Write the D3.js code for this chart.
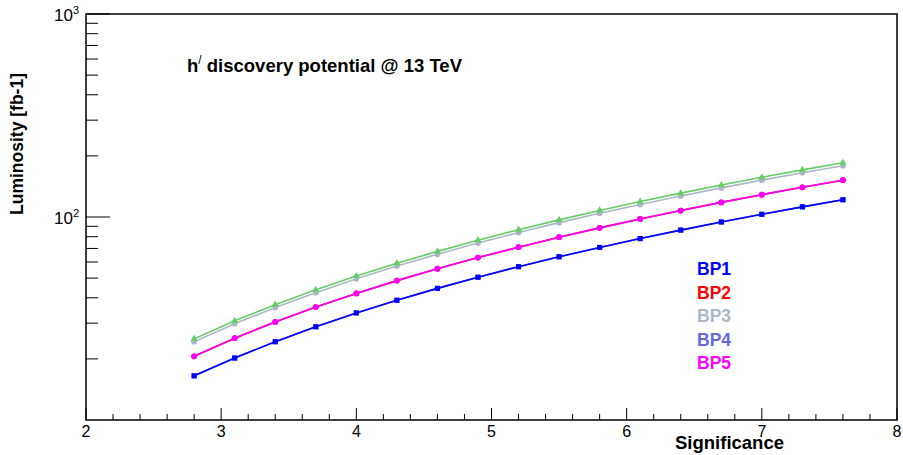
<!DOCTYPE html>
<html lang="en">
<head>
<meta charset="UTF-8">
<title>h discovery potential</title>
<script src="https://cdn.jsdelivr.net/npm/d3@7"></script>
<style>
  body { margin: 0; background: #fff; }
  text { font-family: Arial, "Liberation Sans", sans-serif; }
</style>
</head>
<body>
<div id="chart"></div>
<script>
// significance values (x)
var significance = [2.8, 3.1, 3.4, 3.7, 4.0, 4.3, 4.6, 4.9, 5.2, 5.5, 5.8, 6.1, 6.4, 6.7, 7.0, 7.3, 7.6];

// luminosity in fb-1
var bp1 = [16.5, 20.2, 24.3, 28.8, 33.7, 38.9, 44.5, 50.5, 56.9, 63.7, 70.8, 78.3, 86.2, 94.5, 103.1, 112.2, 121.6];
var bp2 = [20.6, 25.3, 30.4, 36.0, 42.0, 48.6, 55.6, 63.1, 71.0, 79.5, 88.4, 97.8, 107.6, 118.0, 128.8, 140.0, 151.8];
var bp3 = [24.3, 29.8, 35.8, 42.4, 49.6, 57.3, 65.6, 74.4, 83.8, 93.8, 104.3, 115.3, 127.0, 139.1, 151.9, 165.2, 179.0];
var bp4 = [16.5, 20.2, 24.3, 28.8, 33.7, 38.9, 44.5, 50.5, 56.9, 63.7, 70.8, 78.3, 86.2, 94.5, 103.1, 112.2, 121.6];
var bp5 = [20.6, 25.3, 30.4, 36.0, 42.0, 48.6, 55.6, 63.1, 71.0, 79.5, 88.4, 97.8, 107.6, 118.0, 128.8, 140.0, 151.8];
var extra = [25.1, 30.8, 37.0, 43.8, 51.2, 59.2, 67.7, 76.9, 86.6, 96.8, 107.7, 119.1, 131.1, 143.7, 156.9, 170.6, 184.9];

var legendNames = ["BP1", "BP2", "BP3", "BP4", "BP5"];
var xTicks = [2, 3, 4, 5, 6, 7, 8];

var W = 903, H = 455;
var padL = 86, padR = 897, padT = 14, padB = 420;

var svg = d3.select("#chart").append("svg")
    .attr("width", W).attr("height", H);

var x = d3.scaleLinear().domain([2, 8]).range([padL, padR]);
var y = d3.scaleLog().domain([10, 1000]).range([padB, padT]);

// frame
svg.append("rect")
    .attr("x", padL).attr("y", padT)
    .attr("width", padR - padL).attr("height", padB - padT)
    .attr("fill", "none").attr("stroke", "#000").attr("stroke-width", 1.5);

// x ticks (major every 1, minor every 0.2)
var xMinor = d3.range(2, 8.001, 0.2);
svg.selectAll(".xtick").data(xMinor).enter().append("line")
    .attr("x1", function(d) { return x(d); })
    .attr("x2", function(d) { return x(d); })
    .attr("y1", padB)
    .attr("y2", function(d) { return Math.abs(d - Math.round(d)) < 1e-6 ? padB - 12 : padB - 6; })
    .attr("stroke", "#000").attr("stroke-width", 1);

svg.selectAll(".xlab").data(xTicks).enter().append("text")
    .attr("x", function(d) { return x(d); })
    .attr("y", 437)
    .attr("text-anchor", "middle")
    .attr("font-size", 16)
    .text(function(d) { return d; });

// y ticks (log)
var yMinor = [];
[10, 100].forEach(function(dec) {
  for (var k = 1; k <= 9; k++) if (dec * k > 10) yMinor.push(dec * k);
});
yMinor.push(1000);
svg.selectAll(".ytick").data(yMinor).enter().append("line")
    .attr("x1", padL)
    .attr("x2", function(d) { return (d === 100 || d === 1000) ? padL + 24 : padL + 12; })
    .attr("y1", function(d) { return y(d); })
    .attr("y2", function(d) { return y(d); })
    .attr("stroke", "#000").attr("stroke-width", 1);

[[100, "2"], [1000, "3"]].forEach(function(t) {
  var g = svg.append("text")
      .attr("x", 79).attr("y", y(t[0]) + 7)
      .attr("text-anchor", "end")
      .attr("font-size", 17);
  g.append("tspan").text("10");
  g.append("tspan").attr("font-size", 11).attr("dy", -7).text(t[1]);
});

// axis titles
svg.append("text")
    .attr("transform", "translate(23,144) rotate(-90)")
    .attr("text-anchor", "middle")
    .attr("font-size", 17.5).attr("font-weight", "bold")
    .text("Luminosity [fb-1]");

svg.append("text")
    .attr("x", 784).attr("y", 449)
    .attr("text-anchor", "end")
    .attr("font-size", 18.5).attr("font-weight", "bold")
    .text("Significance");

// title
var title = svg.append("text")
    .attr("x", 187).attr("y", 72)
    .attr("font-size", 18.5).attr("font-weight", "bold");
title.append("tspan").text("h");
title.append("tspan").attr("font-size", 12).attr("font-weight", "normal").attr("dy", -8).text("/");
title.append("tspan").attr("dy", 8).text(" discovery potential @ 13 TeV");

// series
var series = [
  { vals: bp4, color: "#6666dd", marker: "square" },
  { vals: bp1, color: "#0000ff", marker: "square" },
  { vals: bp2, color: "#ff0000", marker: "circle" },
  { vals: bp5, color: "#ff00ff", marker: "circle" },
  { vals: bp3, color: "#aab8c6", marker: "circle" },
  { vals: extra, color: "#66cc66", marker: "triangle" }
];

var line = d3.line()
    .x(function(d) { return x(d[0]); })
    .y(function(d) { return y(d[1]); });

var symbols = { square: d3.symbolSquare, circle: d3.symbolCircle, triangle: d3.symbolTriangle };

series.forEach(function(s) {
  var pts = significance.map(function(v, i) { return [v, s.vals[i]]; });
  svg.append("path")
      .attr("d", line(pts))
      .attr("fill", "none")
      .attr("stroke", s.color)
      .attr("stroke-width", 1.6);
  svg.selectAll(null).data(pts).enter().append("path")
      .attr("transform", function(d) { return "translate(" + x(d[0]) + "," + y(d[1]) + ")"; })
      .attr("d", d3.symbol().type(symbols[s.marker]).size(s.marker === "triangle" ? 22 : 26))
      .attr("fill", s.color);
});

// legend
var legendColors = ["#0000ff", "#ff0000", "#aab8c6", "#6666dd", "#ff00ff"];
svg.selectAll(".leg").data(legendNames).enter().append("text")
    .attr("x", 697)
    .attr("y", function(d, i) { return 275 + i * 23.5; })
    .attr("font-size", 17.5).attr("font-weight", "bold")
    .attr("fill", function(d, i) { return legendColors[i]; })
    .text(function(d) { return d; });
</script>
</body>
</html>
